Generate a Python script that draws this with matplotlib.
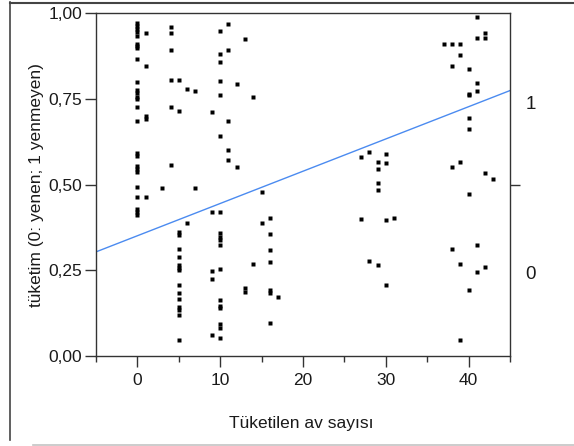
import matplotlib
matplotlib.use('Agg')
import matplotlib.pyplot as plt
from matplotlib.lines import Line2D

plt.rcParams['font.family'] = ['Liberation Sans', 'DejaVu Sans']

# ---- data ----
x_vals = ([0] * 26 + [1] * 5 + [3] + [4] * 6 + [5] * 16 + [6] * 2 + [7] * 2 +
          [9] * 5 + [10] * 18 + [11] * 5 + [12] * 2 + [13] * 3 + [14] * 2 +
          [15] * 2 + [16] * 7 + [17] + [27] * 2 + [28] * 2 + [29] * 5 +
          [30] * 4 + [31] + [37] + [38] * 4 + [39] * 5 + [40] * 7 + [41] * 6 +
          [42] * 4 + [43])
y_vals = [
    # x = 0
    0.971, 0.963, 0.956, 0.946, 0.934, 0.912, 0.905, 0.898, 0.867, 0.799,
    0.778, 0.769, 0.757, 0.749, 0.727, 0.687, 0.593, 0.584, 0.554, 0.545,
    0.536, 0.494, 0.465, 0.428, 0.420, 0.412,
    # x = 1
    0.944, 0.846, 0.700, 0.693, 0.465,
    # x = 3
    0.490,
    # x = 4
    0.961, 0.944, 0.893, 0.807, 0.727, 0.557,
    # x = 5
    0.807, 0.716, 0.363, 0.353, 0.311, 0.290, 0.266, 0.258, 0.251, 0.207,
    0.185, 0.167, 0.144, 0.133, 0.121, 0.048,
    # x = 6
    0.781, 0.389,
    # x = 7
    0.773, 0.490,
    # x = 9
    0.711, 0.420, 0.249, 0.224, 0.061,
    # x = 10
    0.948, 0.883, 0.858, 0.802, 0.762, 0.642, 0.420, 0.360, 0.346, 0.338,
    0.324, 0.253, 0.163, 0.146, 0.141, 0.092, 0.083, 0.052,
    # x = 11
    0.969, 0.893, 0.687, 0.600, 0.572,
    # x = 12
    0.793, 0.552,
    # x = 13
    0.927, 0.198, 0.188,
    # x = 14
    0.756, 0.268,
    # x = 15
    0.479, 0.389,
    # x = 16
    0.404, 0.355, 0.309, 0.273, 0.193, 0.183, 0.097,
    # x = 17
    0.173,
    # x = 27
    0.580, 0.400,
    # x = 28
    0.596, 0.277,
    # x = 29
    0.567, 0.545, 0.506, 0.486, 0.265,
    # x = 30
    0.589, 0.564, 0.396, 0.207,
    # x = 31
    0.404,
    # x = 37
    0.910,
    # x = 38
    0.911, 0.847, 0.552, 0.313,
    # x = 39
    0.911, 0.880, 0.565, 0.268, 0.048,
    # x = 40
    0.839, 0.766, 0.761, 0.696, 0.662, 0.473, 0.192,
    # x = 41
    0.990, 0.929, 0.798, 0.773, 0.323, 0.244,
    # x = 42
    0.943, 0.929, 0.535, 0.259,
    # x = 43
    0.516,
]

fit_x = [-5, 45]
fit_y = [0.304, 0.775]

x_major = [0, 10, 20, 30, 40]
x_minor = [-5, 5, 15, 25, 35, 45]
y_ticks = [0.0, 0.25, 0.50, 0.75, 1.0]
y_labels = ['0,00', '0,25', '0,50', '0,75', '1,00']
right_tick = [0.5]
right_label_pos = [0.245, 0.74]
right_labels = ['0', '1']

x_title = 'Tüketilen av sayısı'
y_title = 'tüketim (0: yenen; 1 yenmeyen)'

# ---- figure ----
W, H = 574, 446
fig = plt.figure(figsize=(W / 100, H / 100), dpi=100)
fig.patch.set_facecolor('white')

ax = fig.add_axes([96 / W, 1 - 356 / H, (510 - 96) / W, (356 - 13.5) / H])

txt = '#1a1a1a'
spine_c = '#333333'

ax.plot(x_vals, y_vals, 's', ms=2.2, mec='none', color='black', zorder=3,
        antialiased=False)
ax.plot(fit_x, fit_y, color='#4b8bf0', lw=1.0, zorder=2)

ax.set_xlim(-5, 45)
ax.set_ylim(0, 1)
ax.set_xticks(x_major)
ax.set_xticks(x_minor, minor=True)
ax.set_yticks(y_ticks)
ax.set_yticklabels(y_labels)

for s in ax.spines.values():
    s.set_color(spine_c)
    s.set_linewidth(1.0)

ax.tick_params(axis='both', which='major', length=8, width=1.0, color=spine_c,
               labelsize=12.5, labelcolor=txt)
ax.tick_params(axis='x', which='major', pad=4)
ax.tick_params(axis='y', which='major', pad=2)
ax.tick_params(axis='x', which='minor', length=4.3, width=1.0, color=spine_c)

ax.set_xlabel(x_title, fontsize=12.5, color=txt)
ax.xaxis.set_label_coords(0.495, -0.175)
ax.set_ylabel(y_title, fontsize=12.5, color=txt)
ax.yaxis.set_label_coords(-0.125, 0.5)

ax2 = ax.twinx()
ax2.set_ylim(0, 1)
ax2.set_yticks(right_tick)
ax2.set_yticklabels([''])
ax2.set_yticks(right_label_pos, minor=True)
ax2.set_yticklabels(right_labels, minor=True)
ax2.tick_params(axis='y', which='major', length=7, width=1.0, color=spine_c)
ax2.tick_params(axis='y', which='minor', length=0, pad=11, labelsize=13.5,
                labelcolor=txt)
for s in ax2.spines.values():
    s.set_visible(False)

# outer frame lines of the original screenshot
fig.add_artist(Line2D([9.5 / W, 9.5 / W], [1 - 2 / H, 1 - 440 / H],
                      transform=fig.transFigure, color='#444444', lw=1.2))
fig.add_artist(Line2D([9.5 / W, 1.0], [1 - 2.5 / H, 1 - 2.5 / H],
                      transform=fig.transFigure, color='#444444', lw=1.5))
fig.add_artist(Line2D([33 / W, 1.0], [1 - 444.5 / H, 1 - 444.5 / H],
                      transform=fig.transFigure, color='#c4c4c4', lw=1.2))

fig.savefig('out.png', dpi=100)
